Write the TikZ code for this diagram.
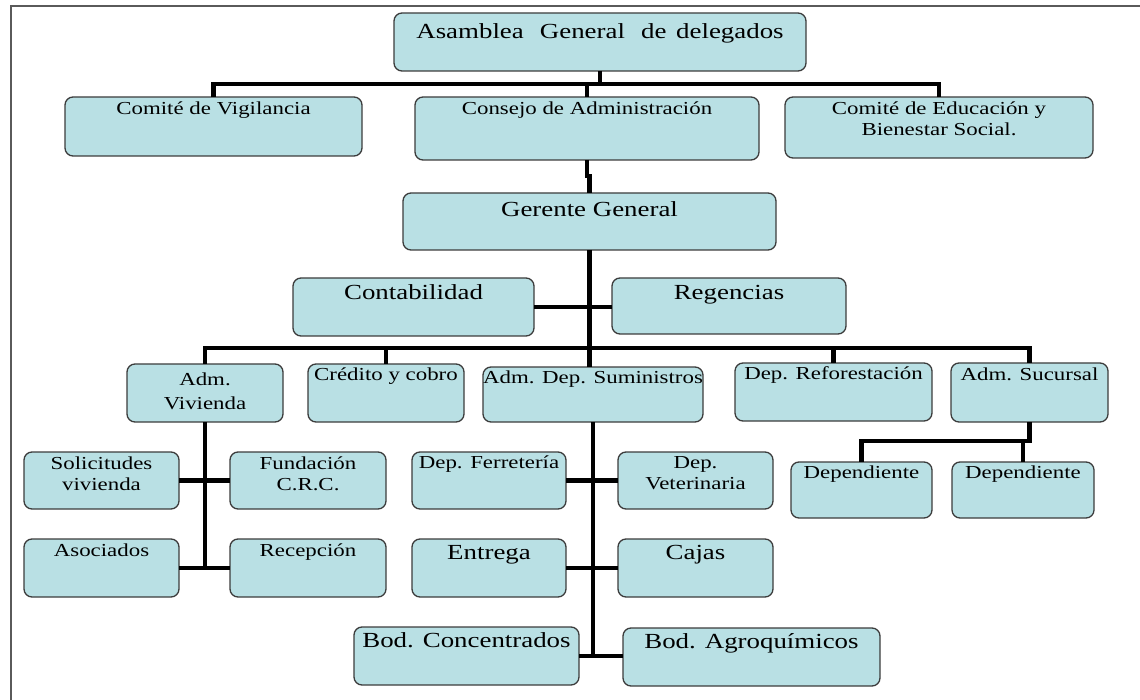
\documentclass[tikz,border=0pt]{standalone}
\usepackage{fontspec}
\setmainfont[FakeStretch=1.25]{Liberation Serif}
\usetikzlibrary{calc}
\definecolor{celeste}{RGB}{185,224,228}
\definecolor{borde}{RGB}{60,60,60}
\definecolor{marco}{RGB}{90,90,90}
% box text: width, height, top pad, text
\def\cajatxt#1#2#3#4{\parbox[c][#2pt][t]{#1pt}{\centering\vspace*{#3pt}#4\par}}
\tikzset{
  caja/.style={draw=borde, fill=celeste, line width=1.3pt, rounded corners=8pt,
    anchor=north west, inner sep=0pt, outer sep=0pt},
  grande/.style={font=\fontsize{21.5}{25}\selectfont},
  chica/.style={font=\fontsize{18.3}{21}\selectfont},
  linea/.style={line width=4.2pt, black},
}

\begin{document}
\begin{tikzpicture}[x=1pt,y=-1pt]
\useasboundingbox (0,0) rectangle (1140,700);
\draw[marco, line width=1.5pt] (11,700) -- (11,6) -- (1140,6);
% top levels
\node[caja, grande] (asam) at (394,13) {\cajatxt{412}{58}{11}{Asamblea\hspace{0.75em}General\hspace{0.75em}de\hspace{0.45em}delegados}};
\node[caja, chica] (vig) at (65,97) {\cajatxt{297}{59}{5}{Comité de Vigilancia}};
\node[caja, chica] (con) at (415,97) {\cajatxt{344}{63}{5}{Consejo de Administración}};
\node[caja, chica] (edu) at (785,97) {\cajatxt{308}{61}{5}{Comité de Educación y\\Bienestar Social.}};
\node[caja, grande] (ger) at (403,193) {\cajatxt{373}{57}{9}{Gerente General}};
\node[caja, grande] (cont) at (293,278) {\cajatxt{241}{58}{7}{Contabilidad}};
\node[caja, grande] (reg) at (612,278) {\cajatxt{234}{56}{7}{Regencias}};
% departments
\node[caja, chica] (viv) at (127,364) {\cajatxt{156}{58}{9}{Adm.\\[3pt]Vivienda}};
\node[caja, chica] (cre) at (308,364) {\cajatxt{156}{58}{4}{Crédito y cobro}};
\node[caja, chica] (sum) at (483,367) {\cajatxt{220}{55}{4}{Adm. Dep. Suministros}};
\node[caja, chica] (ref) at (735,363) {\cajatxt{197}{58}{4}{Dep. Reforestación}};
\node[caja, chica] (suc) at (951,363) {\cajatxt{157}{59}{5}{Adm. Sucursal}};
% vivienda
\node[caja, chica] (sol) at (24,452) {\cajatxt{155}{57}{5}{Solicitudes\\vivienda}};
\node[caja, chica] (fun) at (230,452) {\cajatxt{156}{57}{5}{Fundación\\C.R.C.}};
\node[caja, chica] (aso) at (24,539) {\cajatxt{155}{58}{5}{Asociados}};
\node[caja, chica] (rec) at (230,539) {\cajatxt{156}{58}{5}{Recepción}};
% suministros
\node[caja, chica] (fer) at (412,452) {\cajatxt{154}{57}{4}{Dep. Ferretería}};
\node[caja, chica] (vet) at (618,452) {\cajatxt{155}{57}{5}{Dep.\\Veterinaria}};
\node[caja, grande] (ent) at (412,539) {\cajatxt{154}{58}{6}{Entrega}};
\node[caja, grande] (caj) at (618,539) {\cajatxt{155}{58}{6}{Cajas}};
\node[caja, grande] (bcon) at (354,627) {\cajatxt{225}{58}{6}{Bod. Concentrados}};
\node[caja, grande] (bagr) at (623,628) {\cajatxt{257}{58}{6}{Bod. Agroquímicos}};
% sucursal
\node[caja, chica] (dep1) at (791,462) {\cajatxt{141}{56}{4}{Dependiente}};
\node[caja, chica] (dep2) at (952,462) {\cajatxt{142}{56}{4}{Dependiente}};
% buses
\coordinate (n1) at (0,84);
\coordinate (n2) at (0,348);
\coordinate (n4) at (0,441);
\draw[linea] (vig.north) |- (n1 -| edu.north) -- (edu.north);
\draw[linea] (asam.south) -- (asam.south |- n1);
\draw[linea] (con.north) -- (con.north |- n1);
\draw[linea] (con.south) -- ++(0,16) -| (ger.north);
\draw[linea] (ger.south) -- (ger.south |- sum.north);
\draw[linea] (cont.east) -- (cont.east -| reg.west);
\draw[linea] (viv.north) |- (n2 -| suc.north) -- (suc.north);
\draw[linea] (cre.north) -- (cre.north |- n2);
\draw[linea] (ref.north) -- (ref.north |- n2);
% vivienda
\draw[linea] (viv.south) -- (viv.south |- aso.east);
\draw[linea] (sol.east) -- (fun.west);
\draw[linea] (aso.east) -- (rec.west);
% suministros
\draw[linea] (sum.south) -- (sum.south |- bcon.east);
\draw[linea] (fer.east) -- (vet.west);
\draw[linea] (ent.east) -- (caj.west);
\draw[linea] (bcon.east) -- (bcon.east -| bagr.west);
% sucursal
\draw[linea] (suc.south) |- (n4 -| dep1.north) -- (dep1.north);
\draw[linea] (dep2.north) -- (dep2.north |- n4);
\end{tikzpicture}
\end{document}
